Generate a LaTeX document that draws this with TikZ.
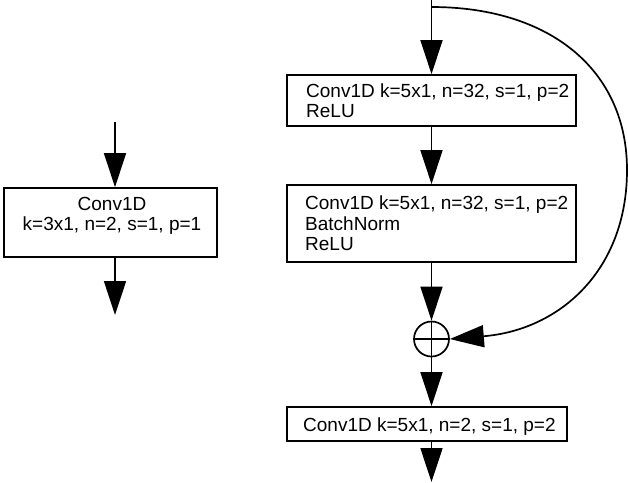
\documentclass[tikz,border=0pt]{standalone}
\usepackage{fontspec}
\setmainfont{Liberation Sans}
\usetikzlibrary{arrows.meta}
% stacked text lines; the first line's baseline is the node's base
\newcommand\textlines[2][l]{\begin{tabular}[t]{@{}#1@{}}#2\end{tabular}}
\begin{document}
\begin{tikzpicture}[x=1pt,y=-1pt,
  every node/.style={font=\fontsize{19}{20.5}\selectfont},
  box/.style={draw, rectangle, line width=1.7pt, inner sep=0pt},
  txt/.style={inner sep=0pt},
  sumnode/.style={draw, circle, line width=1.7pt, inner sep=0pt, minimum size=35pt},
  flow/.style={line width=1.7pt, -{Triangle[length=34pt,width=22pt]}}]
\useasboundingbox (0,0) rectangle (628,482);

% single convolution layer
\node[box, minimum width=213pt, minimum height=69pt] (lb) at (110.5,222.5) {};
\node[txt, anchor=base] (lt) at (112,210) {\textlines[c]{Conv1D\\k=3x1, n=2, s=1, p=1}};
\coordinate (lin) at (115,122);
\coordinate (lout) at (115,315);
\draw[flow] (lin) -- (lin |- lb.north);
\draw[flow] (lout |- lb.south) -- (lout);

% residual block
\node[box, minimum width=289pt, minimum height=51pt] (b1) at (431.5,100.5) {};
\node[txt, anchor=base west] (t1) at (306,97) {\textlines{Conv1D k=5x1, n=32, s=1, p=2\\ReLU}};
\node[box, minimum width=289pt, minimum height=77pt] (b2) at (431.5,223.5) {};
\node[txt, anchor=base west] (t2) at (305,209.5) {\textlines{Conv1D k=5x1, n=32, s=1, p=2\\BatchNorm\\ReLU}};
\node[sumnode] (sum) at (431.5,339) {};
\draw[line width=1.7pt] (sum.north) -- (sum.south) (sum.west) -- (sum.east);
\node[box, minimum width=280pt, minimum height=34pt] (b3) at (427,424) {};
\node[txt, anchor=base west] (t3) at (303,431.5) {Conv1D k=5x1, n=2, s=1, p=2};

\coordinate (top) at (431.5,0);
\coordinate (split) at (431.5,7);
\coordinate (out) at (431.5,482);
\draw[flow] (top) -- (b1);
\draw[flow] (b1) -- (b2);
\draw[flow] (b2) -- (sum);
\draw[flow] (sum) -- (sum |- b3.north);
\draw[flow] (b3.south -| out) -- (out);

% skip connection
\draw[flow] (split) .. controls (550,7) and (627,70) .. (627,170)
  .. controls (627,270) and (560,330) .. (sum.east);
\end{tikzpicture}
\end{document}
